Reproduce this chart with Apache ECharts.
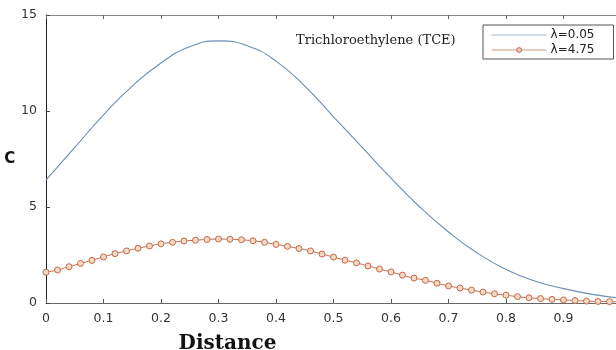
<!DOCTYPE html>
<html><head><meta charset="utf-8">
<script src="https://cdn.jsdelivr.net/npm/echarts@6/dist/echarts.min.js"></script>
<style>html,body{margin:0;padding:0;background:#fff;overflow:hidden}#c{width:640px;height:350px}</style>
</head><body><div id="c"></div>
<script>
var xTicks = [0, 0.1, 0.2, 0.3, 0.4, 0.5, 0.6, 0.7, 0.8, 0.9, 1];
var yTicks = [0, 5, 10, 15];
var blueX = [0,0.05,0.1,0.15,0.2,0.25,0.3,0.35,0.4,0.45,0.5,0.55,0.6,0.65,0.7,0.75,0.8,0.85,0.9,0.95,1.0];
var blueY = [6.4,8.1,9.8,11.3,12.5,13.35,13.65,13.4,12.6,11.3,9.7,8.1,6.5,5.0,3.7,2.6,1.75,1.15,0.75,0.45,0.25];
var orangeX = [0,0.02,0.04,0.06,0.08,0.10,0.12,0.14,0.16,0.18,0.20,0.22,0.24,0.26,0.28,0.30,0.32,0.34,0.36,0.38,0.40,0.42,0.44,0.46,0.48,0.50,0.52,0.54,0.56,0.58,0.60,0.62,0.64,0.66,0.68,0.70,0.72,0.74,0.76,0.78,0.80,0.82,0.84,0.86,0.88,0.90,0.92,0.94,0.96,0.98,1.00];
var orangeY = [1.60,1.72,1.89,2.06,2.22,2.40,2.57,2.71,2.85,2.97,3.08,3.16,3.23,3.27,3.31,3.33,3.32,3.29,3.24,3.16,3.05,2.95,2.84,2.71,2.55,2.39,2.23,2.09,1.93,1.77,1.62,1.45,1.30,1.18,1.03,0.89,0.78,0.67,0.57,0.48,0.41,0.33,0.27,0.23,0.19,0.16,0.13,0.10,0.08,0.07,0.05];
var seriesNames = ['\u03bb=0.05', '\u03bb=4.75'];
var titleText = 'Trichloroethylene (TCE)';

function pairs(xs, ys){ return xs.map(function(x,i){return [x, ys[i]];}); }

var chart = echarts.init(document.getElementById('c'), null, {renderer:'canvas'});
var tickFmt = function(v){ return xTicks.indexOf(v) >= 0 ? String(v) : ''; };
chart.setOption({
  animation: false,
  backgroundColor: '#fff',
  grid: {left: 46, top: 15, right: 19, bottom: 47, containLabel: false, outerBoundsMode: 'none'},
  title: {text: titleText, left: 291, top: 29,
    textStyle: {fontFamily: 'DejaVu Serif', fontSize: 13, fontWeight: 'normal', color: '#222'}},
  legend: {
    orient: 'vertical', left: 483, top: 25,
    borderColor: '#555', borderWidth: 1, padding: [4, 19, 3, 8], itemGap: 3,
    itemWidth: 55, itemHeight: 6,
    textStyle: {fontFamily: 'DejaVu Sans', fontSize: 12, color: '#222', padding: [0,0,0,-1]},
    data: [
      {name: seriesNames[0], itemStyle: {opacity: 0}, lineStyle: {color: '#9fb9cc', width: 1.2}},
      {name: seriesNames[1], lineStyle: {color: '#c9a084', width: 1.2},
        itemStyle: {color: '#f0cbb6', borderColor: '#c46a44', borderWidth: 1}}
    ]
  },
  xAxis: [{
    type: 'value', min: 0, max: 1, interval: 0.1, position: 'bottom',
    name: 'Distance', nameLocation: 'middle', nameGap: 31,
    nameTextStyle: {fontFamily: 'DejaVu Serif', fontSize: 20, fontWeight: 'bold', color: '#111', padding:[0,212,0,0]},
    axisLine: {show: true, lineStyle: {color: '#666', width: 1}},
    axisTick: {show: true, inside: true, length: 4, lineStyle: {color: '#555'}},
    axisLabel: {formatter: tickFmt, fontFamily: 'DejaVu Sans', fontSize: 12.5, color: '#333', margin: 9},
    splitLine: {show: false}
  }, {
    type: 'value', min: 0, max: 1, interval: 0.1, position: 'top',
    axisLine: {show: true, lineStyle: {color: '#888', width: 1}},
    axisTick: {show: true, inside: true, length: 4, lineStyle: {color: '#666'}},
    axisLabel: {show: false}, splitLine: {show: false}
  }],
  yAxis: {
    type: 'value', min: 0, max: 15, interval: 5,
    name: 'C', nameLocation: 'middle', nameGap: 28, nameRotate: 0,
    nameTextStyle: {fontFamily: 'DejaVu Sans', fontSize: 15, fontWeight: 'bold', color: '#111'},
    axisLine: {show: true, lineStyle: {color: '#222', width: 1}},
    axisTick: {show: true, inside: true, length: 4, lineStyle: {color: '#444'}},
    axisLabel: {fontFamily: 'DejaVu Sans', fontSize: 12.5, color: '#333', margin: 9},
    splitLine: {show: false}
  },
  series: [{
    name: seriesNames[0], type: 'line', smooth: true, symbol: 'none',
    data: pairs(blueX, blueY),
    lineStyle: {color: '#6a8fb2', width: 1.1},
    itemStyle: {color: '#6a8fb2'}
  }, {
    name: seriesNames[1], type: 'line', smooth: true, symbol: 'circle', symbolSize: 6,
    data: pairs(orangeX, orangeY),
    lineStyle: {color: '#c46a44', width: 1},
    itemStyle: {color: '#f4d8c8', borderColor: '#c46a44', borderWidth: 1}
  }]
});
</script></body></html>
